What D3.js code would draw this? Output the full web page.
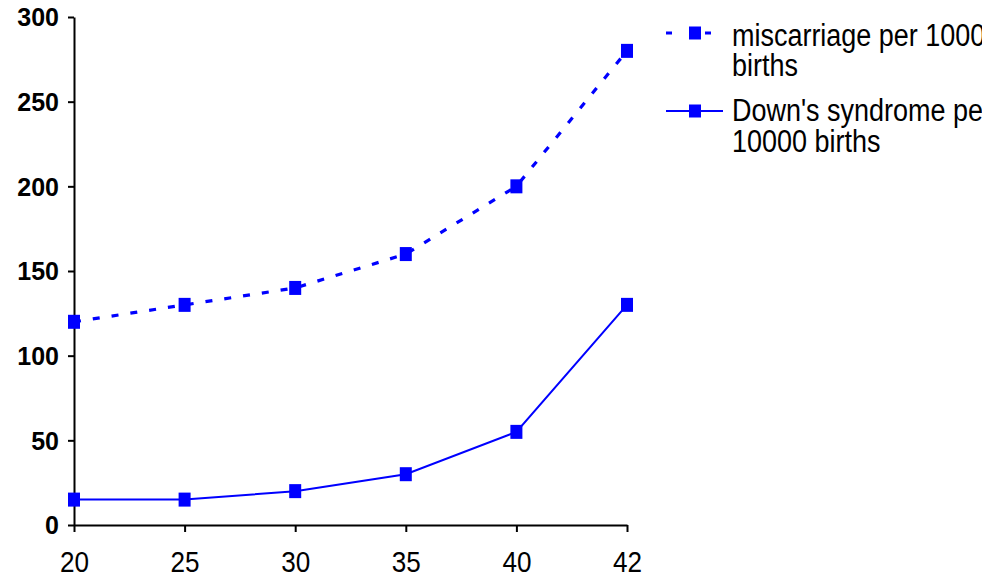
<!DOCTYPE html>
<html>
<head>
<meta charset="utf-8">
<script src="https://cdn.jsdelivr.net/npm/d3@7"></script>
<style>
html,body{margin:0;padding:0;background:#fff;}
svg{display:block;}
</style>
</head>
<body>
<svg id="chart" width="995" height="580"></svg>
<script>
const ages = ["20", "25", "30", "35", "40", "42"];
const miscarriage = [120, 130, 140, 160, 200, 280];
const downs = [15, 15, 20, 30, 55, 130];
const yTicks = [0, 50, 100, 150, 200, 250, 300];
const seriesNames = [["miscarriage per 1000", "births"], ["Down's syndrome per", "10000 births"]];

const svg = d3.select("#chart");
const blue = "#0000FF";
const x = d3.scalePoint().domain(ages).range([74, 627]).padding(0);
const y = d3.scaleLinear().domain([0, 300]).range([525, 17]);

// Y axis
const yAxis = svg.append("g").attr("transform", "translate(74,0)")
  .call(d3.axisLeft(y).tickValues(yTicks).tickSize(6).tickPadding(10).tickSizeOuter(0));
yAxis.select(".domain").attr("stroke", "#000").attr("stroke-width", 2);
yAxis.selectAll(".tick line").attr("stroke", "#000").attr("stroke-width", 2);
yAxis.selectAll(".tick text").attr("fill", "#000")
  .style("font-family", "'Liberation Sans', Arial, sans-serif")
  .style("font-size", "25px").style("font-weight", "bold")
  .attr("x", -15).attr("dy", "0.35em");

// X axis
const xAxis = svg.append("g").attr("transform", "translate(0,525)")
  .call(d3.axisBottom(x).tickSize(7).tickSizeOuter(0));
xAxis.select(".domain").attr("stroke", "#000").attr("stroke-width", 2);
xAxis.selectAll(".tick line").attr("stroke", "#000").attr("stroke-width", 2);
xAxis.selectAll(".tick text").attr("fill", "#000")
  .style("font-family", "'Liberation Sans', Arial, sans-serif")
  .style("font-size", "29px").style("font-weight", "normal")
  .attr("y", 0).attr("dy", 0)
  .attr("transform", "translate(0,47) scale(0.9,1)");

const line = d3.line().x((d, i) => x(ages[i])).y(d => y(d));

// Series
svg.append("path").datum(miscarriage).attr("d", line)
  .attr("fill", "none").attr("stroke", blue).attr("stroke-width", 3.2)
  .attr("stroke-dasharray", "7,12");
svg.append("path").datum(downs).attr("d", line)
  .attr("fill", "none").attr("stroke", blue).attr("stroke-width", 2);

[miscarriage, downs].forEach(s => {
  svg.append("g").selectAll("rect").data(s).join("rect")
    .attr("x", (d, i) => x(ages[i]) - 6).attr("y", d => y(d) - 7)
    .attr("width", 12).attr("height", 14).attr("fill", blue);
});

// Legend
svg.append("defs").append("clipPath").attr("id", "lc")
  .append("rect").attr("x", 640).attr("y", 0).attr("width", 342).attr("height", 580);
const lg = svg.append("g").attr("clip-path", "url(#lc)");
const legendRows = [{cy: 33, base: [46, 76], dash: "6,14,20,100", sw: 3.2}, {cy: 111, base: [121, 152], dash: null, sw: 2}];
legendRows.forEach((r, k) => {
  const ln = lg.append("line").attr("x1", 666).attr("x2", 723).attr("y1", r.cy).attr("y2", r.cy)
    .attr("stroke", blue).attr("stroke-width", r.sw);
  if (k === 0) { ln.attr("x2", 711); ln.attr("stroke-dasharray", "6,33,6"); }
  lg.append("rect").attr("x", 689).attr("y", r.cy - 6.5).attr("width", 12).attr("height", 13).attr("fill", blue);
  seriesNames[k].forEach((t, j) => {
    lg.append("text").text(t)
      .attr("transform", `translate(732,${r.base[j]}) scale(0.87,1)`)
      .style("font-family", "'Liberation Sans', Arial, sans-serif")
      .style("font-size", "31px").attr("fill", "#000");
  });
});
</script>
</body>
</html>
